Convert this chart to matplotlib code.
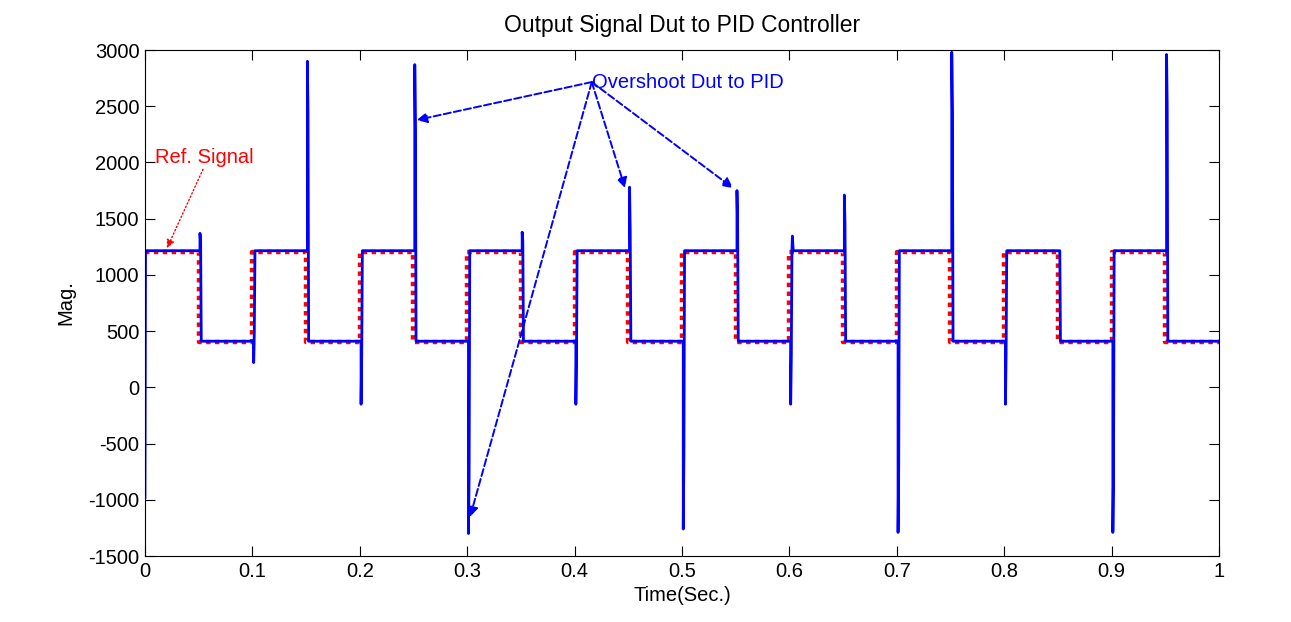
import matplotlib
matplotlib.use("Agg")
import numpy as np
import matplotlib.pyplot as plt

plt.rcParams['font.family'] = ['Liberation Sans', 'DejaVu Sans']
plt.rcParams['axes.unicode_minus'] = False

# Reference square wave (steps-post)
ref_t = [0.0, 0.05, 0.10, 0.15, 0.20, 0.25, 0.30, 0.35, 0.40, 0.45, 0.50,
         0.55, 0.60, 0.65, 0.70, 0.75, 0.80, 0.85, 0.90, 0.95, 1.0]
ref_level = [1200, 400, 1200, 400, 1200, 400, 1200, 400, 1200, 400, 1200,
             400, 1200, 400, 1200, 400, 1200, 400, 1200, 400, 400]

# PID output: plateau levels and spikes at each switching instant
out_high = 1215
out_low = 410
out_start = -980
switch_t = [0.05, 0.10, 0.15, 0.20, 0.25, 0.30, 0.35, 0.40, 0.45, 0.50,
            0.55, 0.60, 0.65, 0.70, 0.75, 0.80, 0.85, 0.90, 0.95]
spike_peak = [1370, 220, 2900, -150, 2870, -1300, 1380, -150, 1780, -1260,
              1750, -150, 1710, -1290, 2980, -150, 1215, -1290, 2960]
spike_mid = [1300, 500, 2450, 300, 2300, -800, 1300, 300, 1400, -600,
             1450, 300, 1450, -700, 2450, 300, 1215, -800, 2500]
after_overshoot = [None, None, None, None, None, None, None, None, None, None,
                   None, 1345, None, None, None, None, None, None, None]
lag = 0.0012

# build the blue trace
bt = [0.0, 0.0005]
by = [out_start, out_high]
level = out_high
for t0, pk, md, ov in zip(switch_t, spike_peak, spike_mid, after_overshoot):
    new_level = out_low if level == out_high else out_high
    bt += [t0 + lag, t0 + lag, t0 + lag + 0.0006, t0 + lag + 0.0012]
    by += [level, pk, md, new_level]
    if ov is not None:
        bt += [t0 + lag + 0.0016, t0 + lag + 0.0024]
        by += [ov, new_level]
    level = new_level
bt.append(1.0)
by.append(level)

fig = plt.figure(figsize=(12.91, 6.22), dpi=100)
ax = fig.add_axes([0.1123, 0.1061, 0.8319, 0.8135])

ax.step(ref_t, ref_level, where='post', color='red', linestyle=(0, (1, 1.0)),
        linewidth=3.2, solid_capstyle='butt', dash_capstyle='butt')
ax.plot(bt, by, color='blue', linewidth=2.0)

ax.set_xlim(0, 1)
ax.set_ylim(-1500, 3000)
ax.set_xticks(np.arange(0, 1.01, 0.1))
ax.set_xticklabels(['0', '0.1', '0.2', '0.3', '0.4', '0.5', '0.6', '0.7', '0.8', '0.9', '1'])
ax.set_yticks(np.arange(-1500, 3001, 500))
ax.tick_params(direction='in', top=True, right=True, length=7, labelsize=14.5,
               width=0.8, pad=4)
for s in ax.spines.values():
    s.set_linewidth(0.8)

ax.set_title('Output Signal Dut to PID Controller', fontsize=16.5, pad=13)
ax.set_xlabel('Time(Sec.)', fontsize=14.5, labelpad=4)
ax.set_ylabel('Mag.', fontsize=14.5, labelpad=9)

# Annotations
ax.annotate('Ref. Signal', xy=(0.0205, 1238), xytext=(0.0093, 2048),
            color='red', fontsize=14.5, va='center', ha='left',
            arrowprops=dict(arrowstyle='-|>', color='red', linestyle=':',
                            linewidth=1, shrinkA=0, shrinkB=0,
                            mutation_scale=12, relpos=(0.5, 0.0)))

ov_origin = (0.416, 2715)
ov_targets = [(0.253, 2377), (0.447, 1772), (0.5475, 1772), (0.3026, -1155)]
ax.text(ov_origin[0], ov_origin[1], 'Overshoot Dut to PID', color='blue',
        fontsize=14.5, va='center', ha='left')
for tx, ty in ov_targets:
    ax.annotate('', xy=(tx, ty), xytext=ov_origin,
                arrowprops=dict(arrowstyle='-|>', color='blue', linestyle='--',
                                linewidth=1.4, shrinkA=0, shrinkB=0,
                                mutation_scale=15))

fig.savefig('out.png', dpi=100)
